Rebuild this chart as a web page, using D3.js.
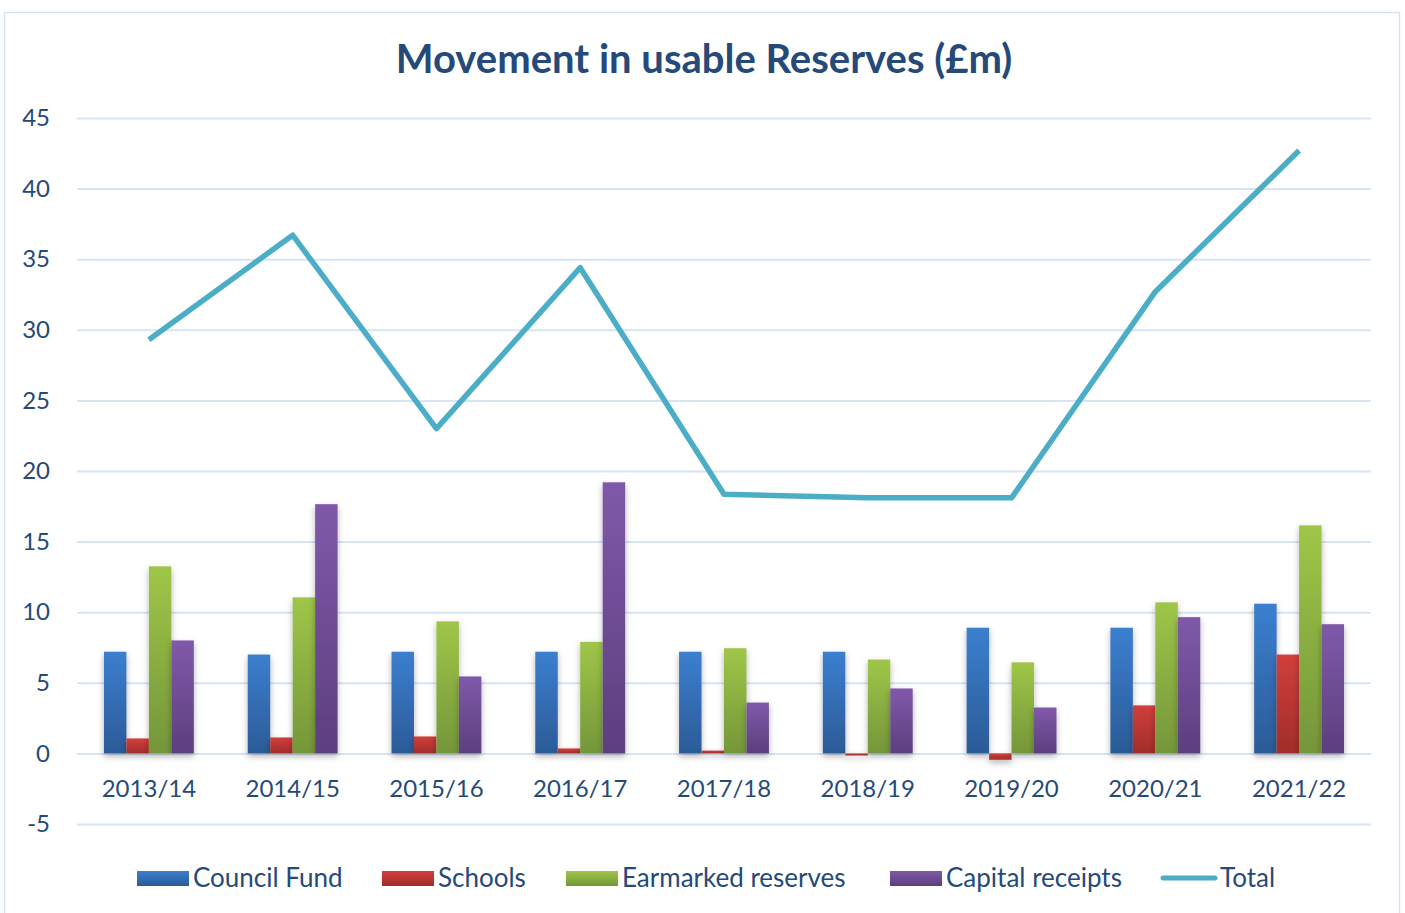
<!DOCTYPE html>
<html>
<head>
<meta charset="utf-8">
<script src="https://cdn.jsdelivr.net/npm/d3@7"></script>
<style>
  body { margin: 0; background: #fff; }
  svg { font-family: Lato, "Open Sans", sans-serif; }
</style>
</head>
<body>
<svg width="1405" height="913"></svg>
<script>
// data
var years = ["2013/14", "2014/15", "2015/16", "2016/17", "2017/18", "2018/19", "2019/20", "2020/21", "2021/22"];
var councilFund = [7.2, 7.0, 7.2, 7.2, 7.2, 7.2, 8.9, 8.9, 10.6];
var schools = [1.06, 1.13, 1.2, 0.35, 0.2, -0.15, -0.45, 3.4, 7.0];
var earmarked = [13.25, 11.05, 9.35, 7.9, 7.45, 6.65, 6.45, 10.7, 16.15];
var capital = [8.0, 17.65, 5.45, 19.2, 3.6, 4.6, 3.25, 9.65, 9.15];
var total = [29.3, 36.7, 23.0, 34.4, 18.35, 18.1, 18.1, 32.7, 42.7];
var yTicks = [-5, 0, 5, 10, 15, 20, 25, 30, 35, 40, 45];

var seriesNames = ["Council Fund", "Schools", "Earmarked reserves", "Capital receipts"];
var seriesValues = [councilFund, schools, earmarked, capital];
var colors = [["#3b7fcf", "#2b5b97"], ["#d13f3b", "#a12d2a"], ["#9fc648", "#74963a"], ["#8059aa", "#5c3f7e"]];
var textColor = "#254a7a";

function main() {
    var svg = d3.select("svg");
    var left = 77, right = 1371, top = 118, bottom = 824;

    var x = d3.scaleBand().domain(years).range([left, right]);
    var y = d3.scaleLinear().domain([-5, 45]).range([bottom, top]);
    var inner = d3.scaleBand().domain(seriesNames)
        .range([0, x.bandwidth() * 0.625]);
    var groupOffset = x.bandwidth() * 0.1875;

    var defs = svg.append("defs");
    colors.forEach(function(c, i) {
        var g = defs.append("linearGradient").attr("id", "grad" + i)
            .attr("x1", 0).attr("y1", 0).attr("x2", 0).attr("y2", 1);
        g.append("stop").attr("offset", "0%").attr("stop-color", c[0]);
        g.append("stop").attr("offset", "100%").attr("stop-color", c[1]);
    });
    var f = defs.append("filter").attr("id", "shadow")
        .attr("x", "-30%").attr("y", "-10%").attr("width", "160%").attr("height", "130%");
    f.append("feDropShadow").attr("dx", 0).attr("dy", 3).attr("stdDeviation", 3)
        .attr("flood-color", "#000").attr("flood-opacity", 0.3);

    // outer frame
    svg.append("rect").attr("x", 4.5).attr("y", 12.5).attr("width", 1395).attr("height", 910)
        .attr("fill", "none").attr("stroke", "#d5e2f2").attr("stroke-width", 1.5);

    svg.append("text").attr("x", 704).attr("y", 73).attr("text-anchor", "middle")
        .attr("font-size", 40).attr("font-weight", "bold").attr("fill", textColor)
        .text("Movement in usable Reserves (£m)");

    // grid + y labels
    var yAxis = svg.append("g").attr("transform", "translate(" + left + ",0)")
        .call(d3.axisLeft(y).tickValues(yTicks).tickSize(-(right - left)).tickPadding(27)
            .tickFormat(function(d) { return String(d); }));
    yAxis.select(".domain").remove();
    yAxis.selectAll(".tick line").attr("stroke", "#d7e4f4").attr("stroke-width", 2);
    yAxis.selectAll(".tick text").attr("fill", textColor).attr("font-size", 24)
        .attr("font-family", "Lato, 'Open Sans', sans-serif");

    // x labels along zero line
    var xAxis = svg.append("g").attr("transform", "translate(0," + y(0) + ")")
        .call(d3.axisBottom(x).tickSize(0).tickPadding(27));
    xAxis.select(".domain").remove();
    xAxis.selectAll(".tick text").attr("fill", textColor).attr("font-size", 24)
        .attr("font-family", "Lato, 'Open Sans', sans-serif");

    // bars
    seriesValues.forEach(function(vals, si) {
        svg.append("g").attr("filter", "url(#shadow)")
            .selectAll("rect").data(vals).enter().append("rect")
            .attr("x", function(d, i) { return x(years[i]) + groupOffset + inner(seriesNames[si]); })
            .attr("width", inner.bandwidth())
            .attr("y", function(d) { return y(Math.max(d, 0)); })
            .attr("height", function(d) { return Math.abs(y(d) - y(0)); })
            .attr("fill", "url(#grad" + si + ")");
    });

    // total line
    var line = d3.line()
        .x(function(d, i) { return x(years[i]) + x.bandwidth() / 2; })
        .y(function(d) { return y(d); });
    svg.append("path").datum(total)
        .attr("d", line).attr("fill", "none")
        .attr("stroke", "#4badc6").attr("stroke-width", 5.5).attr("stroke-linejoin", "round");

    // legend
    var legendY = 878;
    var legendX = [137, 382, 566, 890];
    seriesNames.forEach(function(name, i) {
        svg.append("rect").attr("x", legendX[i]).attr("y", legendY - 7)
            .attr("width", 52).attr("height", 15).attr("fill", "url(#grad" + i + ")");
        svg.append("text").attr("x", legendX[i] + 56).attr("y", legendY + 9)
            .attr("font-size", 26).attr("fill", textColor).text(name);
    });
    svg.append("line").attr("x1", 1163).attr("x2", 1215).attr("y1", legendY).attr("y2", legendY)
        .attr("stroke", "#4badc6").attr("stroke-width", 5).attr("stroke-linecap", "round");
    svg.append("text").attr("x", 1220).attr("y", legendY + 9)
        .attr("font-size", 26).attr("fill", textColor).text("Total");
}
main();
</script>
</body>
</html>
